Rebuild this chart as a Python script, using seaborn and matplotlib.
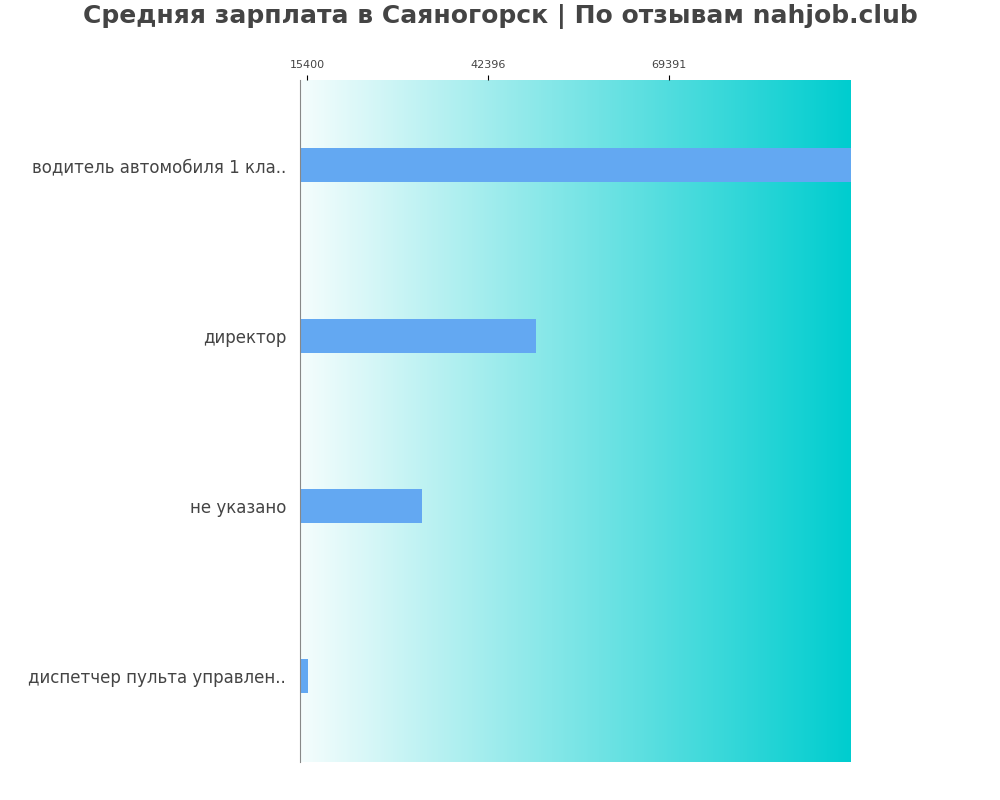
import matplotlib
matplotlib.use("Agg")
import matplotlib.pyplot as plt
import seaborn as sns
import numpy as np
import pandas as pd
from matplotlib.colors import LinearSegmentedColormap

categories = ["водитель автомобиля 1 кла..", "директор", "не указано", "диспетчер пульта управлен.."]
values = [96500, 49550, 32550, 15550]
tick_values = [15400, 42396, 69391]
xmin, xmax = 14356, 96500

df = pd.DataFrame({"cat": categories, "val": values})
fig = plt.figure(figsize=(10, 8), dpi=100)
ax = fig.add_axes([0.30, 0.048, 0.551, 0.852])
cmap = LinearSegmentedColormap.from_list("g", ["#f5fdfd", "#00cdcf"])
grad = np.linspace(0, 1, 256).reshape(1, -1)
ax.imshow(grad, aspect="auto", cmap=cmap, extent=[xmin, xmax, 3.5, -0.5], zorder=0)
sns.barplot(data=df, x="val", y="cat", color="#63a8f2", width=0.2, saturation=1, ax=ax, zorder=2)
ax.set_xlim(xmin, xmax)
ax.set_ylim(3.5, -0.5)
ax.xaxis.tick_top()
ax.set_xticks(tick_values)
ax.set_xticklabels([str(t) for t in tick_values], fontsize=8, color="#444444")
ax.tick_params(axis="y", length=0, labelsize=12, labelcolor="#444444", pad=10)
ax.set_xlabel("")
ax.set_ylabel("")
for s in ["top", "right", "bottom"]:
    ax.spines[s].set_visible(False)
ax.spines["left"].set_color("#888888")
fig.suptitle("Средняя зарплата в Саяногорск | По отзывам nahjob.club", fontsize=18,
             fontweight="bold", color="#444444", x=0.5, y=0.995)
fig.savefig("out.png")
